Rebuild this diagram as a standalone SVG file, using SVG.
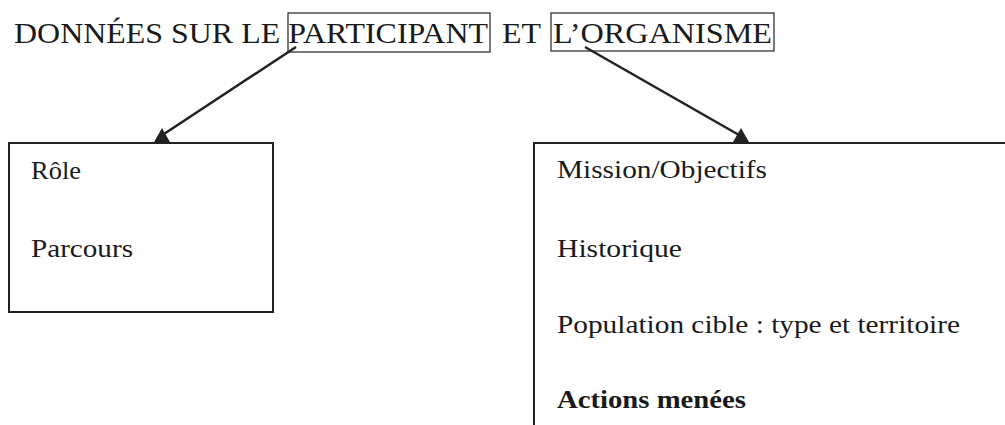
<svg xmlns="http://www.w3.org/2000/svg" width="1005" height="425" viewBox="0 0 1005 425">
<style>
.title{font-family:"Liberation Serif","Times New Roman",serif;font-size:30px;fill:#1a1a1a}
.item{font-family:"Liberation Serif","Times New Roman",serif;font-size:25px;fill:#1a1a1a}
.bold{font-weight:bold}
.box{fill:none;stroke:#222;stroke-width:2}
.tbox{fill:none;stroke:#222;stroke-width:1.2}
.conn{stroke:#222;stroke-width:2.5;fill:none}
.head{fill:#222}
</style>
<defs>
<path id="ahead" d="M0,-15 L8.5,0 L-8.5,0 z"/>
</defs>
<rect width="1005" height="425" fill="#fff"/>
<g id="title">
<text class="title" x="14" y="43" textLength="474" lengthAdjust="spacingAndGlyphs">DONNÉES SUR LE PARTICIPANT</text>
<text class="title" x="502" y="43" textLength="39" lengthAdjust="spacingAndGlyphs">ET</text>
<text class="title" x="553" y="43" textLength="219" lengthAdjust="spacingAndGlyphs">L’ORGANISME</text>
<rect class="tbox" x="288" y="13" width="202" height="39"/>
<rect class="tbox" x="551" y="13" width="223" height="38"/>
</g>
<g id="connectors">
<line class="conn" x1="296" y1="47" x2="164" y2="134"/>
<use href="#ahead" class="head" x="162" y="143"/>
<line class="conn" x1="585" y1="47" x2="739" y2="135"/>
<use href="#ahead" class="head" x="741" y="143"/>
</g>
<g id="participant">
<rect class="box" x="9" y="143" width="264" height="169"/>
<text class="item" x="31" y="179" textLength="50" lengthAdjust="spacingAndGlyphs">Rôle</text>
<text class="item" x="31" y="257" textLength="102" lengthAdjust="spacingAndGlyphs">Parcours</text>
</g>
<g id="organisme">
<path class="box" d="M534,425 V143 H1005"/>
<text class="item" x="557" y="178" textLength="210" lengthAdjust="spacingAndGlyphs">Mission/Objectifs</text>
<text class="item" x="557" y="257" textLength="125" lengthAdjust="spacingAndGlyphs">Historique</text>
<text class="item" x="557" y="333" textLength="403" lengthAdjust="spacingAndGlyphs">Population cible : type et territoire</text>
<text class="item bold" x="557" y="408" textLength="189" lengthAdjust="spacingAndGlyphs">Actions menées</text>
</g>
</svg>
